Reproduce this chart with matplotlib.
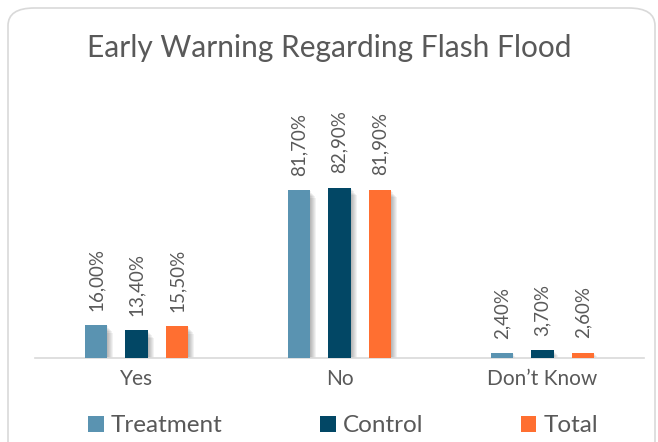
import numpy as np
import matplotlib.pyplot as plt
from matplotlib.patches import FancyBboxPatch

categories = ["Yes", "No", "Don\u2019t Know"]
series = ["Treatment", "Control", "Total"]
treatment = [16.0, 81.7, 2.4]
control = [13.4, 82.9, 3.7]
total = [15.5, 81.9, 2.6]
colors = ["#5A93B1", "#024765", "#FF6F31"]

plt.rcParams['font.family'] = ['Lato', 'DejaVu Sans']
txt = "#595959"

W, H = 658, 442
fig = plt.figure(figsize=(W / 100, H / 100), dpi=100)

# rounded frame around the chart
frame = FancyBboxPatch((8 / W, -20 / H), 647 / W, (H - 8 + 20) / H,
                       boxstyle="round,pad=0,rounding_size=0.04",
                       transform=fig.transFigure, facecolor="white",
                       edgecolor="#d9d9d9", linewidth=1.2, zorder=-5)
fig.patches.append(frame)

ax = fig.add_axes([35 / W, (H - 358) / H, 609 / W, 268 / H])
ax.set_facecolor("none")
ax.set_zorder(2)

x = np.arange(len(categories))
bw = 0.11
gap = 0.2
vals = [treatment, control, total]
for i, (name, v, c) in enumerate(zip(series, vals, colors)):
    pos = x + (i - 1) * gap
    # soft shadow
    for k in range(1, 7):
        ax.bar(pos + 0.005 * k, np.array(v) - 0.3 * k, bw, bottom=-0.3 * k,
               color="black", alpha=0.05, linewidth=0, zorder=1)
    ax.bar(pos, v, bw, color=c, label=name, zorder=3)
    for p, val in zip(pos, v):
        ax.text(p, val + 7, f"{val:.2f}%".replace(".", ","), rotation=90,
                ha="center", va="bottom", fontsize=13.5, color=txt)

ax.set_xlim(-0.5, 2.5)
ax.set_ylim(0, 130.5)
ax.set_xticks(x)
ax.set_xticklabels(categories, fontsize=15, color=txt)
ax.tick_params(axis="x", length=0, pad=8)
ax.set_yticks([])
for s in ["top", "right", "left"]:
    ax.spines[s].set_visible(False)
ax.spines["bottom"].set_color("#d9d9d9")
ax.spines["bottom"].set_linewidth(1.2)

fig.text(0.5, 1 - 48 / H, "Early Warning Regarding Flash Flood", ha="center",
         va="center", fontsize=21.5, color=txt)

leg = fig.legend(loc="center", bbox_to_anchor=(343 / W, 1 - 426 / H), ncol=3,
                 frameon=False, fontsize=17.5, handlelength=0.65, handleheight=0.65,
                 handletextpad=0.3, columnspacing=4.0, labelcolor=txt)

fig.savefig("out.png", dpi=100)
